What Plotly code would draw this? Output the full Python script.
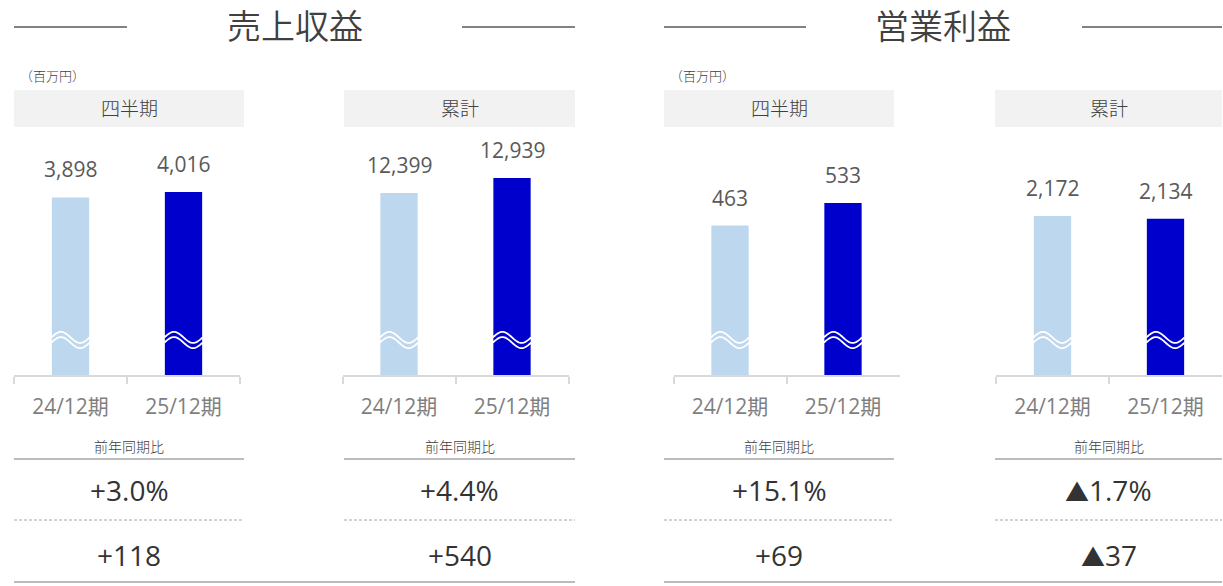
import math
import plotly.graph_objects as go

# ---------------- data ----------------
categories = ["24/12期", "25/12期"]
sales_quarter = [3898, 4016]
sales_cumulative = [12399, 12939]
op_quarter = [463, 533]
op_cumulative = [2172, 2134]
yoy_pct = ["+3.0%", "+4.4%", "+15.1%", "▲1.7%"]
yoy_diff = ["+118", "+540", "+69", "▲37"]
panel_titles = ["四半期", "累計", "四半期", "累計"]
group_titles = ["売上収益", "営業利益"]
unit_label = "（百万円）"
yoy_label = "前年同期比"

series = [sales_quarter, sales_cumulative, op_quarter, op_cumulative]

# ---------------- layout constants ----------------
W, H = 1223, 586
CJK = "Noto Sans CJK JP"
NUM = "Open Sans, Noto Sans CJK JP"
bar_colors = ["#bdd7ee", "#0000cc"]

# pixel geometry per panel
box_x = [(14, 244), (344, 575), (664, 894), (995, 1222)]
axis_x = [(14, 240), (342.5, 568.5), (673.5, 899.5), (996, 1222)]
y_ranges = [(0, 5377), (5847, 14667), (0, 759), (0, 3347)]  # broken-axis scales
plot_top_px, plot_bottom_px = 130, 375
group_x = [(14, 575), (664, 1222)]
title_lines = [[(14, 127), (462, 575)], [(664, 806), (1082, 1222)]]


def px(x):
    return x / W


def py(y):
    return 1 - y / H


def note(x, y, text, size, color, family=CJK, xanchor="center", weight=300):
    return dict(x=px(x), y=py(y), xref="paper", yref="paper", text=text,
                showarrow=False, xanchor=xanchor, yanchor="middle",
                font=dict(family=family, size=size, color=color, weight=weight))


def small_triangle(s):
    return s.replace("▲", '<span style="font-size:24px">▲</span>')


fig = go.Figure()
shapes = []
annotations = []

for i, vals in enumerate(series):
    n = "" if i == 0 else str(i + 1)
    xa, ya = "x" + n, "y" + n
    fig.add_trace(go.Bar(
        x=categories, y=vals, xaxis=xa, yaxis=ya,
        marker=dict(color=bar_colors, line=dict(width=0)),
        width=0.33, showlegend=False, hoverinfo="x+y",
    ))
    fig.update_layout(**{
        ("xaxis" + n): dict(
            domain=[px(axis_x[i][0]), px(axis_x[i][1])],
            anchor=ya, type="category", range=[-0.5, 1.5],
            showline=True, linecolor="#d9d9d9", linewidth=1.5,
            ticks="outside", tickson="boundaries", tickcolor="#d9d9d9",
            ticklen=7, tickwidth=1.5, showgrid=False, zeroline=False,
            tickfont=dict(family=NUM, size=21, color="#7f7f7f"),
            ticklabelstandoff=12, fixedrange=True,
        ),
        ("yaxis" + n): dict(
            domain=[py(plot_bottom_px), py(plot_top_px)],
            anchor=xa, range=list(y_ranges[i]), visible=False,
            showgrid=False, zeroline=False, fixedrange=True,
        ),
    })
    # value labels
    for c, v in zip(categories, vals):
        annotations.append(dict(
            x=c, y=v, xref=xa, yref=ya, text=f"{v:,}", showarrow=False,
            xanchor="center", yanchor="middle", yshift=28,
            font=dict(family=NUM, size=21, color="#595959"),
        ))
    # wavy break marks across each bar
    x0a, x1a = axis_x[i]
    cw = (x1a - x0a) / len(categories)
    for k in range(len(categories)):
        cx = x0a + (k + 0.5) * cw
        half = cw * 0.33 / 2 + 0.5
        for off in (-2.6, 2.6):
            pts = []
            for s in range(41):
                t = s / 40
                xx = cx - half + 2 * half * t
                yy = 340 + off - 5.5 * math.sin(2 * math.pi * t)
                pts.append(f"{px(xx):.5f},{py(yy):.5f}")
            shapes.append(dict(type="path", xref="paper", yref="paper",
                               path="M " + " L ".join(pts),
                               line=dict(color="white", width=1.8)))

    # header box
    bx0, bx1 = box_x[i]
    bc = (bx0 + bx1) / 2
    shapes.append(dict(type="rect", xref="paper", yref="paper",
                       x0=px(bx0), x1=px(bx1), y0=py(127), y1=py(90),
                       fillcolor="#f2f2f2", line=dict(width=0), layer="below"))
    annotations.append(note(bc, 108, panel_titles[i], 19, "#404040"))
    # YoY block
    annotations.append(note(bc, 446, yoy_label, 14, "#404040"))
    shapes.append(dict(type="line", xref="paper", yref="paper",
                       x0=px(bx0), x1=px(bx1), y0=py(459), y1=py(459),
                       line=dict(color="#a6a6a6", width=1.5)))
    annotations.append(note(bc, 490, small_triangle(yoy_pct[i]), 28, "#333333",
                            family=NUM, weight=400))
    shapes.append(dict(type="line", xref="paper", yref="paper",
                       x0=px(bx0), x1=px(bx1), y0=py(520), y1=py(520),
                       line=dict(color="#a6a6a6", width=1, dash="3px,2px")))
    annotations.append(note(bc, 555, small_triangle(yoy_diff[i]), 28, "#333333",
                            family=NUM, weight=400))

for g in range(2):
    gx0, gx1 = group_x[g]
    annotations.append(note((gx0 + gx1) / 2, 25, group_titles[g], 34, "#404040", weight=350))
    for lx0, lx1 in title_lines[g]:
        shapes.append(dict(type="line", xref="paper", yref="paper",
                           x0=px(lx0), x1=px(lx1), y0=py(27), y1=py(27),
                           line=dict(color="#595959", width=1.5)))
    annotations.append(note(gx0 + 4, 75, unit_label, 13, "#404040", xanchor="left"))
    shapes.append(dict(type="line", xref="paper", yref="paper",
                       x0=px(gx0), x1=px(gx1), y0=py(582), y1=py(582),
                       line=dict(color="#a6a6a6", width=1.5)))

fig.update_layout(
    width=W, height=H,
    margin=dict(l=0, r=0, t=0, b=0, pad=0),
    paper_bgcolor="white", plot_bgcolor="white",
    bargap=0.67, shapes=shapes, annotations=annotations,
    font=dict(family=CJK),
)

fig.write_html("out.html",
               config={"displayModeBar": False},
               post_script="document.body.style.margin='0';document.body.style.overflow='hidden';")
